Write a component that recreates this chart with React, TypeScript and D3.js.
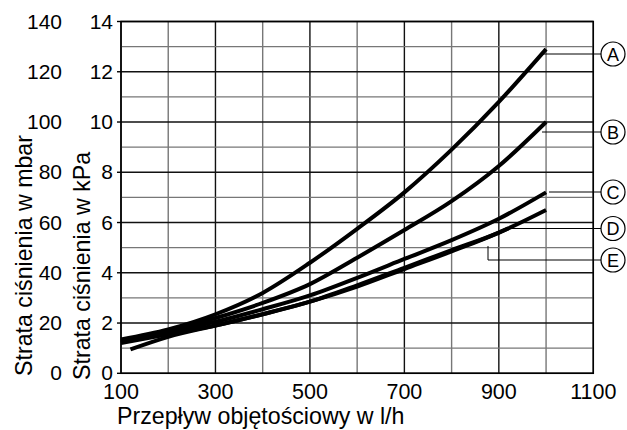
import React from "react";
import * as d3 from "d3";

const flowA = [100, 200, 300, 400, 500, 600, 700, 800, 900, 1000];
const lossA = [1.35, 1.75, 2.35, 3.2, 4.4, 5.75, 7.2, 8.9, 10.8, 12.9];
const flowB = [100, 200, 300, 400, 500, 600, 700, 800, 900, 1000];
const lossB = [1.3, 1.7, 2.2, 2.8, 3.55, 4.6, 5.7, 6.85, 8.25, 10.0];
const flowC = [100, 200, 300, 400, 500, 600, 700, 800, 900, 1000];
const lossC = [1.25, 1.65, 2.05, 2.55, 3.1, 3.8, 4.55, 5.3, 6.15, 7.2];
const flowD = [100, 200, 300, 400, 500, 600, 700, 800, 900, 1000];
const lossD = [1.2, 1.55, 1.9, 2.35, 2.85, 3.5, 4.2, 4.9, 5.6, 6.5];
const flowE = [120, 200, 300, 400, 500, 600, 700, 800, 900, 920];
const lossE = [0.95, 1.45, 1.9, 2.35, 2.85, 3.45, 4.15, 4.85, 5.6, 5.77];

const seriesNames = ["A", "B", "C", "D", "E"];
const xTicks = [100, 300, 500, 700, 900, 1100];
const kPaTicks = [0, 2, 4, 6, 8, 10, 12, 14];
const mbarTicks = [0, 20, 40, 60, 80, 100, 120, 140];

const xTitle = "Przepływ objętościowy w l/h";
const yTitleKPa = "Strata ciśnienia w kPa";
const yTitleMbar = "Strata ciśnienia w mbar";

export default function App() {
  const W = 627, H = 430;
  const x = d3.scaleLinear().domain([100, 1100]).range([121, 593.3]);
  const y = d3.scaleLinear().domain([0, 14]).range([373.3, 21.5]);
  const font = "'Liberation Sans', Arial, sans-serif";

  const series = [
    { name: "A", q: flowA, v: lossA },
    { name: "B", q: flowB, v: lossB },
    { name: "C", q: flowC, v: lossC },
    { name: "D", q: flowD, v: lossD },
    { name: "E", q: flowE, v: lossE },
  ];

  const line = d3
    .line<[number, number]>()
    .x((d) => x(d[0]))
    .y((d) => y(d[1]))
    .curve(d3.curveMonotoneX);

  const labels = [
    { name: seriesNames[0], ax: 542, ay: 53.5, ly: 54 },
    { name: seriesNames[1], ax: 542, ay: 132, ly: 132 },
    { name: seriesNames[2], ax: 549, ay: 192, ly: 192 },
    { name: seriesNames[3], ax: 509, ay: 228.5, ly: 228.5 },
    { name: seriesNames[4], ax: 488, ay: 246, ly: 260 },
  ];
  const cx = 613;
  const r = 12;

  const vLines = d3.range(100, 1101, 100);
  const hLines = d3.range(0, 15, 1);

  return (
    <svg
      width={W}
      height={H}
      style={{ position: "absolute", left: 0, top: 0, background: "#fff" }}
      fontFamily={font}
    >
      <rect x={0} y={0} width={W} height={H} fill="#fff" />
      {vLines.map((q) => (
        <line
          key={"v" + q}
          x1={x(q)}
          x2={x(q)}
          y1={y(0)}
          y2={y(14)}
          stroke={(q / 100) % 2 === 1 ? "#111" : "#777"}
          strokeWidth={1.4}
        />
      ))}
      {hLines.map((v) => (
        <line
          key={"h" + v}
          x1={x(100)}
          x2={x(1100)}
          y1={y(v)}
          y2={y(v)}
          stroke={v % 2 === 0 ? "#111" : "#777"}
          strokeWidth={1.4}
        />
      ))}
      {kPaTicks.map((v) => (
        <line key={"t" + v} x1={x(100) - 4} x2={x(100)} y1={y(v)} y2={y(v)} stroke="#000" strokeWidth={1.4} />
      ))}
      <rect
        x={x(100)}
        y={y(14)}
        width={x(1100) - x(100)}
        height={y(0) - y(14)}
        fill="none"
        stroke="#000"
        strokeWidth={1.5}
      />
      {series.map((s) => (
        <path
          key={s.name}
          d={line(s.q.map((q, i) => [q, s.v[i]] as [number, number])) || ""}
          fill="none"
          stroke="#000"
          strokeWidth={4}
        />
      ))}
      {labels.map((l) => (
        <g key={"l" + l.name}>
          <polyline
            points={`${l.ax},${l.ay} ${l.ax},${l.ly} ${cx - r},${l.ly}`}
            fill="none"
            stroke="#000"
            strokeWidth={1}
          />
          <circle cx={cx} cy={l.ly} r={r} fill="#fff" stroke="#000" strokeWidth={1.2} />
          <text x={cx} y={l.ly + 6.5} textAnchor="middle" fontSize={18} fill="#000">
            {l.name}
          </text>
        </g>
      ))}
      {kPaTicks.map((v) => (
        <text key={"k" + v} x={113} y={y(v) + 7} textAnchor="end" fontSize={21} fill="#000">
          {v}
        </text>
      ))}
      {mbarTicks.map((v, i) => (
        <text key={"m" + v} x={62} y={y(kPaTicks[i]) + 7} textAnchor="end" fontSize={21} fill="#000">
          {v}
        </text>
      ))}
      {xTicks.map((q) => (
        <text key={"x" + q} x={x(q)} y={399} textAnchor="middle" fontSize={21.5} fill="#000">
          {q}
        </text>
      ))}
      <text x={117} y={424} fontSize={23.2} fill="#000">
        {xTitle}
      </text>
      <text
        transform={`translate(32,376) rotate(-90)`}
        textAnchor="start"
        fontSize={23.2}
        fill="#000"
      >
        {yTitleMbar}
      </text>
      <text
        transform={`translate(90,380) rotate(-90)`}
        textAnchor="start"
        fontSize={23.2}
        fill="#000"
      >
        {yTitleKPa}
      </text>
    </svg>
  );
}
